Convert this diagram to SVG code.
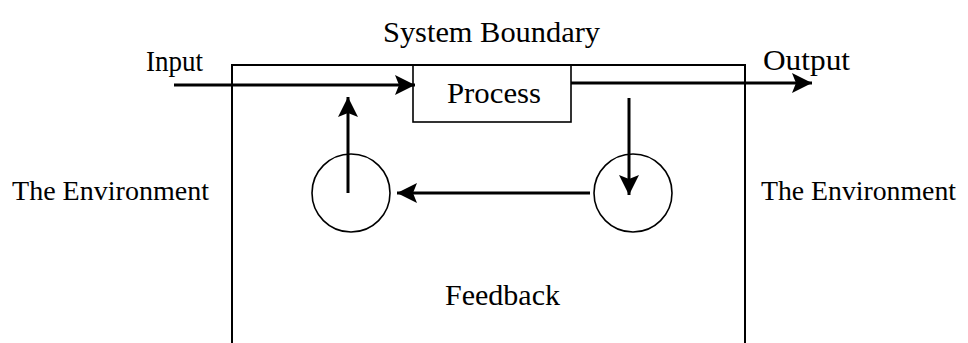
<svg xmlns="http://www.w3.org/2000/svg" width="968" height="343" viewBox="0 0 968 343">
  <style>
    .lbl { font-family: "Liberation Serif", "Times New Roman", serif; font-size: 30px; fill: #000; }
    .env { font-size: 28px; }
    .edge { fill: none; stroke: #000; stroke-width: 3; }
    .thin { fill: none; stroke: #000; stroke-width: 1.6; }
    .boundary { fill: none; stroke: #000; stroke-width: 2; }
  </style>
  <defs>
    <marker id="head" markerUnits="userSpaceOnUse" markerWidth="26" markerHeight="26" viewBox="-22 -13 24 26" refX="0" refY="0" orient="auto">
      <path d="M0,0 L-20,-10 L-16,0 L-20,10 Z" fill="#000"/>
    </marker>
  </defs>

  <rect width="968" height="343" fill="#fff"/>

  <!-- system boundary, open at the bottom -->
  <g id="boundary">
    <path class="boundary" d="M232,343 V65 H745 V343"/>
    <text class="lbl" x="383" y="42" textLength="217" lengthAdjust="spacingAndGlyphs">System Boundary</text>
  </g>

  <g id="process">
    <rect class="thin" x="413" y="65" width="158" height="57" fill="#fff"/>
    <text class="lbl" x="447" y="103" textLength="94" lengthAdjust="spacingAndGlyphs">Process</text>
  </g>

  <g id="sensor">
    <circle class="thin" cx="633" cy="193" r="39"/>
  </g>

  <g id="controller">
    <circle class="thin" cx="351" cy="193" r="39"/>
  </g>

  <g id="labels">
    <text class="lbl" x="146" y="71" textLength="57" lengthAdjust="spacingAndGlyphs">Input</text>
    <text class="lbl" x="763" y="70" textLength="87" lengthAdjust="spacingAndGlyphs">Output</text>
    <text class="lbl env" x="12" y="200" textLength="197" lengthAdjust="spacingAndGlyphs">The Environment</text>
    <text class="lbl env" x="761" y="200" textLength="195" lengthAdjust="spacingAndGlyphs">The Environment</text>
    <text class="lbl" x="445" y="305" textLength="115" lengthAdjust="spacingAndGlyphs">Feedback</text>
  </g>

  <g id="connectors">
    <line class="edge" x1="174" y1="85" x2="415" y2="85" marker-end="url(#head)"/>
    <line class="edge" x1="571" y1="83" x2="812" y2="83" marker-end="url(#head)"/>
    <line class="edge" x1="629" y1="98" x2="629" y2="195" marker-end="url(#head)"/>
    <line class="edge" x1="590" y1="193" x2="397" y2="193" marker-end="url(#head)"/>
    <line class="edge" x1="348" y1="193" x2="348" y2="97" marker-end="url(#head)"/>
  </g>
</svg>
